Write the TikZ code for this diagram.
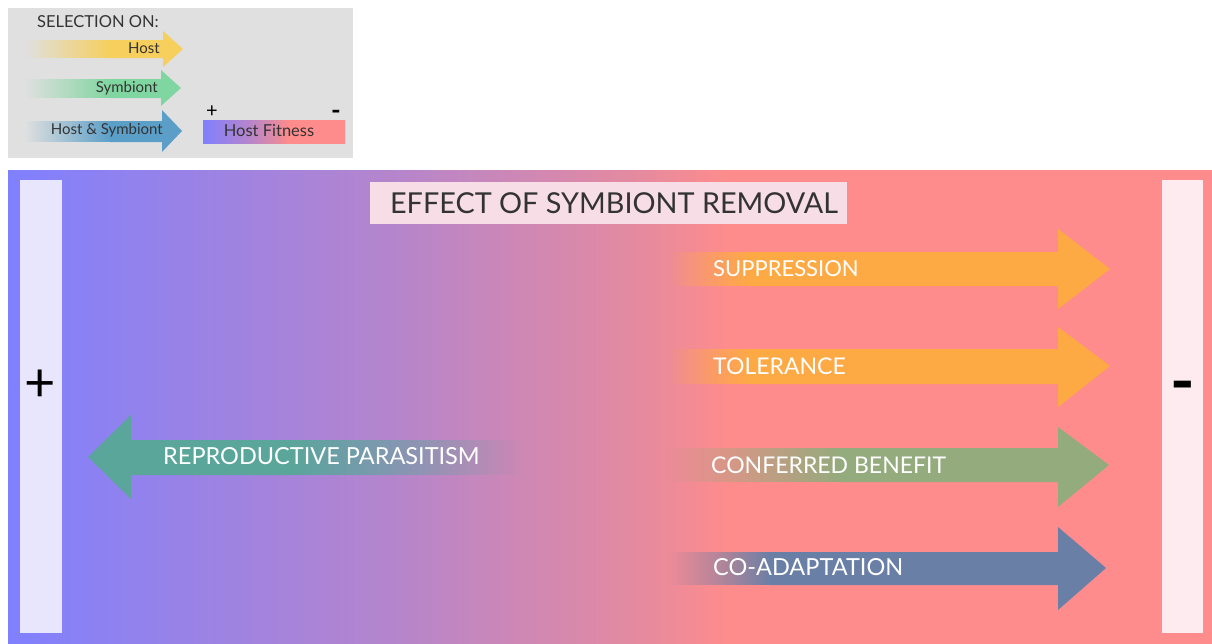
\documentclass[tikz,border=0pt]{standalone}
\usepackage{fontspec}
\setmainfont{Lato}
\usetikzlibrary{fadings}

\definecolor{leggray}{HTML}{E0E0E0}
\definecolor{legtext}{HTML}{333333}
\definecolor{hostcol}{HTML}{F6CF5C}
\definecolor{symcol}{HTML}{80D6A0}
\definecolor{bothcol}{HTML}{5B9FC8}
\definecolor{fitblue}{HTML}{8080FE}
\definecolor{fitpurple}{HTML}{B585CC}
\definecolor{fitpink}{HTML}{E48AA0}
\definecolor{fitsalmon}{HTML}{FE8C8C}
\definecolor{plusbar}{HTML}{E8E6FC}
\definecolor{minusbar}{HTML}{FDEBEF}
\definecolor{titlefill}{HTML}{F7DDE6}
\definecolor{titletext}{HTML}{333333}
\definecolor{supcol}{HTML}{FDAA44}
\definecolor{benefitcol}{HTML}{94AB7D}
\definecolor{coadcol}{HTML}{6A7FA6}
\definecolor{repcol}{HTML}{5AA69A}

\tikzfading[name=fadein, left color=transparent!100, right color=transparent!0]
\tikzfading[name=fadeout, left color=transparent!0, right color=transparent!100]

\pgfdeclarehorizontalshading{fitness}{100bp}{color(0bp)=(fitblue); color(25bp)=(fitblue);
  color(41bp)=(fitpurple); color(51bp)=(fitpink); color(55bp)=(fitsalmon);
  color(75bp)=(fitsalmon); color(100bp)=(fitsalmon)}

\begin{document}
\begin{tikzpicture}[x=1pt,y=-1pt,
    leg/.style={text=legtext,inner sep=0pt,font=\fontsize{15}{15}\selectfont},
    lab/.style={text=white,inner sep=0pt,anchor=west,font=\fontsize{23}{23}\selectfont},
    sign/.style={text=black,inner sep=0pt,font=\fontsize{54}{54}\selectfont}]
\useasboundingbox (0,0) rectangle (1212,643);
\fill[white] (0,0) rectangle (1212,643);

% legend
\fill[leggray] (8,8) rectangle (353,158);
\node[leg,anchor=west,font=\fontsize{16.5}{16.5}\selectfont] (sel) at (37,22) {SELECTION ON:};

\fill[hostcol,path fading=fadein] (25,40) rectangle (111,58);
\fill[hostcol] (110,40) -- (163,40) -- (163,31) -- (183,49) -- (163,67) -- (163,58) -- (110,58) -- cycle;
\node[leg,anchor=east] (host) at (160,48) {Host};

\fill[symcol,path fading=fadein] (25,79) rectangle (111,98);
\fill[symcol] (110,79) -- (161,79) -- (161,70) -- (181,88) -- (161,106) -- (161,98) -- (110,98) -- cycle;
\node[leg,anchor=east] (sym) at (158,88) {Symbiont};

\fill[bothcol,path fading=fadein] (25,121) rectangle (111,142);
\fill[bothcol] (110,121) -- (162,121) -- (162,110) -- (182,131) -- (162,152) -- (162,142) -- (110,142) -- cycle;
\node[leg,anchor=east] (both) at (163,130) {Host \& Symbiont};

\fill[shading=fitness] (203,120) rectangle (345,143);
\node[leg,font=\fontsize{16.5}{16.5}\selectfont] (fit) at (269,131) {Host Fitness};
\node[leg,text=black,font=\fontsize{20}{20}\selectfont] (fitplus) at (212,112) {+};
\node[leg,text=black,font=\fontsize{26}{26}\selectfont\bfseries] (fitminus) at (336,115) {-};

% main panel
\fill[shading=fitness] (8,170) rectangle (1212,643);
\fill[plusbar] (20,180) rectangle (62,633);
\fill[minusbar] (1162,180) rectangle (1203,633);
\node[sign] (plus) at (40,386) {+};
\node[sign,font=\fontsize{66}{66}\selectfont\bfseries] (minus) at (1183,393) {-};

\fill[titlefill] (370,182) rectangle (847,224);
\node[text=titletext,inner sep=0pt,font=\fontsize{28.8}{28.8}\selectfont] (title) at (614,203) {EFFECT OF SYMBIONT REMOVAL};

% effect arrows
\fill[supcol,path fading=fadein] (668,252) rectangle (751,286);
\fill[supcol] (750,252) -- (1058,252) -- (1058,229) -- (1110,269) -- (1058,309) -- (1058,286) -- (750,286) -- cycle;
\node[lab,font=\fontsize{22}{22}\selectfont] (sup) at (713,269) {SUPPRESSION};

\fill[supcol,path fading=fadein] (668,349) rectangle (751,384);
\fill[supcol] (750,349) -- (1058,349) -- (1058,327) -- (1110,366) -- (1058,407) -- (1058,384) -- (750,384) -- cycle;
\node[lab] (tol) at (713,366) {TOLERANCE};

\fill[benefitcol,path fading=fadein] (665,448) rectangle (841,482);
\fill[benefitcol] (840,448) -- (1058,448) -- (1058,427) -- (1109,465) -- (1058,507) -- (1058,482) -- (840,482) -- cycle;
\node[lab] (ben) at (711,465) {CONFERRED BENEFIT};

\fill[coadcol,path fading=fadein] (668,552) rectangle (771,585);
\fill[coadcol] (770,552) -- (1058,552) -- (1058,527) -- (1106,568) -- (1058,610) -- (1058,585) -- (770,585) -- cycle;
\node[lab,font=\fontsize{23.5}{23.5}\selectfont] (coad) at (713,567) {CO-ADAPTATION};

\fill[repcol,path fading=fadeout] (289,440) rectangle (522,475);
\fill[repcol] (290,440) -- (131,440) -- (131,415) -- (88,457) -- (131,499) -- (131,475) -- (290,475) -- cycle;
\node[lab,font=\fontsize{23.5}{23.5}\selectfont] (rep) at (163,456) {REPRODUCTIVE PARASITISM};
\end{tikzpicture}
\end{document}
